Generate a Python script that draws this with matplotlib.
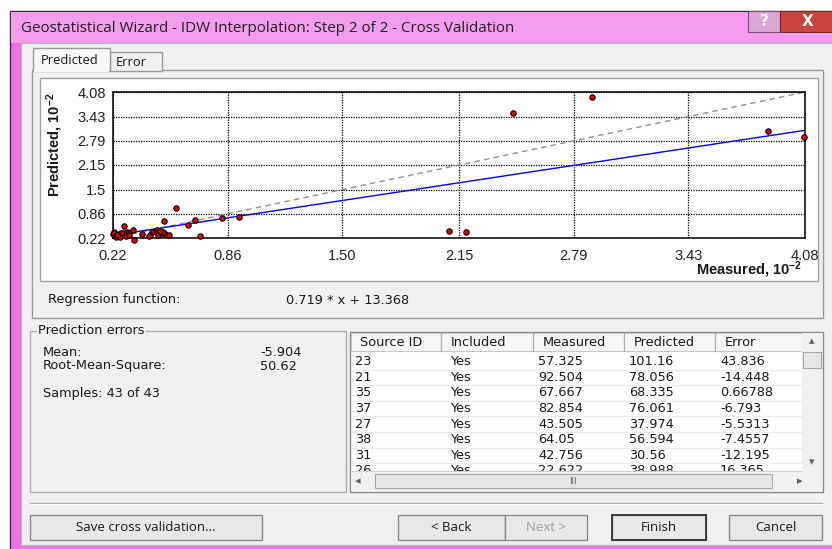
import matplotlib
matplotlib.use('Agg')
import matplotlib.pyplot as plt
from matplotlib.patches import Rectangle

# cross validation points, units of 10^-2
measured = [0.573, 0.925, 0.677, 0.829, 0.435, 0.641, 0.428, 0.226,
            2.094, 2.187, 2.449, 2.891, 3.873, 4.076,
            0.506, 0.703, 0.281, 0.337, 0.220, 0.227, 0.253, 0.263, 0.272, 0.277,
            0.296, 0.311, 0.333, 0.380, 0.420, 0.464, 0.469, 0.473, 0.492, 0.510,
            0.534, 0.500, 0.245, 0.235, 0.260, 0.290, 0.310, 0.240, 0.480]
predicted = [1.012, 0.781, 0.683, 0.761, 0.380, 0.566, 0.306, 0.390,
             0.405, 0.379, 3.527, 3.942, 3.059, 2.900,
             0.678, 0.265, 0.537, 0.170, 0.326, 0.360, 0.318, 0.360, 0.300, 0.360,
             0.387, 0.344, 0.424, 0.334, 0.273, 0.424, 0.360, 0.290, 0.344, 0.318,
             0.290, 0.380, 0.280, 0.240, 0.250, 0.270, 0.290, 0.310, 0.400]

x_ticks = [0.22, 0.86, 1.50, 2.15, 2.79, 3.43, 4.08]
x_labels = ['0.22', '0.86', '1.50', '2.15', '2.79', '3.43', '4.08']
y_ticks = [0.22, 0.86, 1.5, 2.15, 2.79, 3.43, 4.08]
y_labels = ['0.22', '0.86', '1.5', '2.15', '2.79', '3.43', '4.08']

slope = 0.719
intercept = 13.368

table_cols = ['Source ID', 'Included', 'Measured', 'Predicted', 'Error']
source_id = ['23', '21', '35', '37', '27', '38', '31', '26']
included = ['Yes'] * 8
meas_col = ['57.325', '92.504', '67.667', '82.854', '43.505', '64.05', '42.756', '22.622']
pred_col = ['101.16', '78.056', '68.335', '76.061', '37.974', '56.594', '30.56', '38.988']
err_col = ['43.836', '-14.448', '0.66788', '-6.793', '-5.5313', '-7.4557', '-12.195', '16.365']

err_mean = '-5.904'
err_rms = '50.62'
samples = 'Samples: 43 of 43'

plt.rcParams['mathtext.fontset'] = 'custom'
plt.rcParams['mathtext.bf'] = 'Liberation Sans:bold'
plt.rcParams['mathtext.rm'] = 'Liberation Sans:bold'
plt.rcParams['mathtext.default'] = 'bf'

UI = 'DejaVu Sans'
WIN = 'Open Sans'
GRAY = '#f0f0f0'
UI_SIZE = 9.3

fig = plt.figure(figsize=(8.32, 5.49), dpi=100)
fig.patch.set_facecolor('white')

# background axes in pixel coords for the dialog chrome
bg = fig.add_axes([0, 0, 1, 1])
bg.set_xlim(0, 832)
bg.set_ylim(549, 0)
bg.axis('off')

def box(x, y, w, h, fc, ec='none', lw=1, z=1):
    bg.add_patch(Rectangle((x, y), w, h, facecolor=fc, edgecolor=ec, linewidth=lw, zorder=z))

def txt(x, y, s, size=UI_SIZE, family=UI, color='#1a1a1a', ha='left', z=5, **kw):
    return bg.text(x, y, s, fontsize=size, family=family, color=color, ha=ha, va='center',
                   zorder=z, **kw)

# window frame + title bar
box(10, 11, 840, 545, '#ee72e4', '#3a2a3a', 1)
box(11, 12, 830, 31, '#f39cea')
txt(21, 28, 'Geostatistical Wizard - IDW Interpolation: Step 2 of 2 - Cross Validation',
    size=10.9, family=WIN, color='#202020')
box(748, 11, 32, 21, '#d9a6d6', '#7a5078', 0.8, z=2)
txt(764, 21, '?', size=11, family='DejaVu Sans', color='white', ha='center', fontweight='bold')
box(780, 11, 60, 21, '#c8443c', '#7a2a2a', 0.8, z=2)
txt(808, 21, 'X', size=11, family='DejaVu Sans', color='white', ha='center', fontweight='bold')

# dialog body
box(21, 43, 820, 502, GRAY, '#b8b8b8', 0.8)

# tab page
box(32, 70, 791, 248, GRAY, '#9a9a9a', 1)
box(40, 78, 778, 203, 'white', '#a0a0a0', 1, z=2)
box(110, 52, 52, 19, GRAY, '#9a9a9a', 1)
box(33, 48, 77, 23, '#f7f7f7', '#9a9a9a', 1, z=3)
box(34, 69, 75, 3, '#f7f7f7', z=3)
txt(70, 60, 'Predicted', size=9.3, family=WIN, ha='center')
txt(131, 62, 'Error', size=9.3, family=WIN, ha='center')

# chart
ax = fig.add_axes([113 / 832, 1 - 238 / 549, 692 / 832, 146 / 549])
ax.set_xlim(0.22, 4.08)
ax.set_ylim(0.22, 4.08)
ax.set_xticks(x_ticks)
ax.set_xticklabels(x_labels, family='Liberation Sans', fontsize=10.5, color='#222222')
ax.set_yticks(y_ticks)
ax.set_yticklabels(y_labels, family='Liberation Sans', fontsize=10.5, color='#222222')
ax.tick_params(length=0, pad=5)
ax.tick_params(axis='x', pad=8)
ax.grid(True, color='black', linestyle=(0, (1, 1)), linewidth=0.9)
for s in ax.spines.values():
    s.set_linewidth(1.1)
ax.plot([0.22, 4.08], [0.22, 4.08], color='#909090', linestyle=(0, (4, 3)), linewidth=1)
ax.plot([0.22, 4.08], [slope * 0.22 + intercept / 100, slope * 4.08 + intercept / 100],
        color='#0000ff', linewidth=1)
ax.scatter(measured, predicted, s=15, c='#e00000', edgecolors='black', linewidths=0.8,
           zorder=5, clip_on=False)

t = txt(55, 93, r'Predicted, 10$^{-2}$', size=10.5, family='Liberation Sans', ha='center',
        fontweight='bold', rotation=90, z=6)
t.set_va('top')
txt(802, 270, r'Measured, 10$^{-2}$', size=10.5, family='Liberation Sans', ha='right',
    fontweight='bold', z=6)

# regression function
txt(48, 300, 'Regression function:')
txt(286, 300, '%.3f * x + %.3f' % (slope, intercept))

# prediction errors group
box(30, 331, 316, 161, 'none', '#b0b0b0', 1)
txt(38, 331, 'Prediction errors', bbox=dict(fc=GRAY, ec='none', pad=1))
txt(43, 352, 'Mean:')
txt(260, 352, err_mean)
txt(43, 366, 'Root-Mean-Square:')
txt(260, 366, err_rms)
txt(43, 394, samples)

# table
col_x = [350, 441, 533, 624, 715, 802]
box(350, 332, 473, 160, 'white', '#8a8a8a', 1)
box(351, 333, 451, 18, '#f6f6f6', '#c8c8c8', 0.8, z=2)
for cx in col_x[1:-1]:
    bg.plot([cx, cx], [333, 351], color='#b0b0b0', lw=1, zorder=3)
for i, name in enumerate(table_cols):
    txt(col_x[i] + 10, 342.5, name)
row_h = 15.6
for r in range(len(source_id)):
    yy = 361.7 + r * row_h
    bg.plot([351, 802], [yy + 7.8, yy + 7.8], color='#ececec', lw=0.8, zorder=2)
    vals = [source_id[r], included[r], meas_col[r], pred_col[r], err_col[r]]
    for i, v in enumerate(vals):
        txt(col_x[i] + 5 + (4 if i == 1 else 0), yy, v, z=3)
# scrollbars cover the last row
box(351, 471, 451, 20, GRAY, z=6)
bg.plot([351, 802], [471, 471], color='#d0d0d0', lw=0.8, zorder=6)
box(375, 474, 397, 14, '#e6e6e6', '#a8a8a8', 0.8, z=7)
txt(573, 481, 'III', size=6, color='#606060', ha='center', z=8)
txt(358, 481, '◂', size=8, color='#606060', ha='center', z=8)
txt(800, 481, '▸', size=8, color='#606060', ha='center', z=8)
box(802, 333, 20, 158, GRAY, z=6)
box(803, 352, 18, 16, '#e6e6e6', '#a8a8a8', 0.8, z=7)
txt(812, 341, '▴', size=8, color='#606060', ha='center', z=8)
txt(812, 462, '▾', size=8, color='#606060', ha='center', z=8)

# separator + buttons
bg.plot([30, 822], [503, 503], color='#a0a0a0', lw=1, zorder=3)
bg.plot([30, 822], [504, 504], color='white', lw=1, zorder=3)
buttons = [(30, 232, 'Save cross validation...', '#1a1a1a'),
           (398, 107, '< Back', '#1a1a1a'),
           (505, 82, 'Next >', '#a0a0a0'),
           (612, 94, 'Finish', '#1a1a1a'),
           (729, 93, 'Cancel', '#1a1a1a')]
for bx, bw, label, col in buttons:
    box(bx, 515, bw, 25, '#e8e8e8', '#8c8c8c', 1, z=3)
    txt(bx + bw / 2, 527.5, label, size=9.5, family=WIN, color=col, ha='center')
bg.add_patch(Rectangle((612, 515), 94, 25, fill=False, edgecolor='#3c3c3c', linewidth=1.4, zorder=4))

fig.savefig('out.png', dpi=100)
